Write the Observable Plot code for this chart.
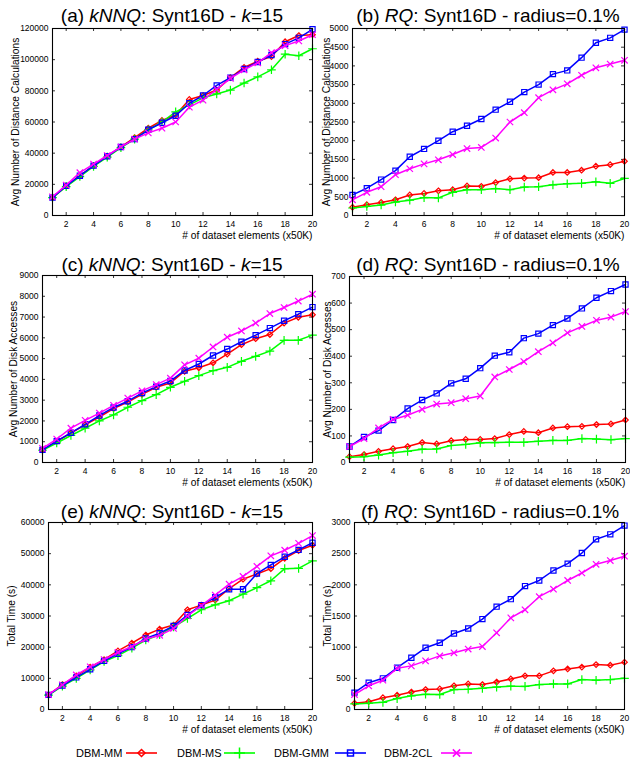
<!DOCTYPE html>
<html><head><meta charset="utf-8">
<script src="https://cdn.jsdelivr.net/npm/d3@7"></script>
<script src="https://cdn.jsdelivr.net/npm/@observablehq/plot@0.6"></script>
<style>
body{margin:0;background:#fff;}
#root{position:relative;width:630px;height:762px;font-family:"Liberation Sans",Arial,sans-serif;overflow:hidden;background:#fff;}
.panel{position:absolute;}
.panel svg{overflow:visible;}
.title{position:absolute;font-size:19px;white-space:nowrap;transform:translate(-50%,-50%);line-height:1;color:#000;}
.legtext{position:absolute;font-size:11px;white-space:nowrap;transform:translateY(-50%);line-height:1;}
.legsw{position:absolute;}
</style>
</head><body>
<div id="root"></div>
<script>
// ---------------- data ----------------
const elements = [1,2,3,4,5,6,7,8,9,10,11,12,13,14,15,16,17,18,19,20];
const xTicks = [2,4,6,8,10,12,14,16,18,20];
const methods = ["DBM-MM","DBM-MS","DBM-GMM","DBM-2CL"];
const colors = ["#ff0000","#00ff00","#0000ff","#ff00ff"];
const symbols = ["diamond2","plus","square2","times"];

const ticksA = [0,20000,40000,60000,80000,100000,120000];
const ticksB = [0,500,1000,1500,2000,2500,3000,3500,4000,4500,5000];
const ticksC = [0,1000,2000,3000,4000,5000,6000,7000,8000,9000];
const ticksD = [0,100,200,300,400,500,600,700];
const ticksE = [0,10000,20000,30000,40000,50000,60000];
const ticksF = [0,500,1000,1500,2000,2500,3000];

// (a) kNNQ distance calculations
const aMM  = [11500,19000,25500,32000,38000,44000,50000,56000,61000,64500,74500,77000,80500,88500,95000,99000,102000,111500,115500,116000];
const aMS  = [11500,18500,25000,31500,37500,43500,49000,55000,60000,66500,71000,75500,78000,80500,85000,89000,93500,103500,102500,107000];
const aGMM = [11500,19000,25500,32000,38000,44000,49000,55000,59500,64000,72000,77000,83500,88500,94000,98500,103000,110000,114000,119500];
const a2CL = [12000,19500,27500,33000,38500,44000,49000,53000,56000,60000,69500,74000,81000,88000,93500,98000,104500,109000,112000,116000];
// (b) RQ distance calculations
const bMM  = [220,290,350,420,550,590,660,690,790,780,880,980,1000,1010,1150,1150,1210,1320,1360,1450];
const bMS  = [200,240,280,360,410,480,470,620,690,690,720,690,760,770,820,850,860,900,860,990];
const bGMM = [550,730,960,1200,1570,1780,2000,2240,2400,2580,2830,3040,3300,3500,3780,3880,4220,4620,4750,4970];
const b2CL = [420,620,770,1090,1250,1380,1490,1630,1790,1820,2070,2500,2750,3150,3360,3520,3750,3950,4050,4150];
// (c) kNNQ disk accesses
const cMM  = [600,1020,1420,1810,2190,2590,2910,3280,3620,3830,4390,4560,4800,5220,5670,5960,6160,6710,6990,7110];
const cMS  = [590,940,1300,1650,2000,2290,2660,2980,3270,3620,3910,4180,4420,4580,4870,5110,5360,5880,5880,6130];
const cGMM = [610,1030,1430,1840,2260,2650,2950,3340,3650,3920,4430,4740,5150,5460,5810,6130,6470,6820,7140,7480];
const c2CL = [680,1130,1650,2030,2380,2750,3100,3450,3750,4060,4700,5020,5560,6030,6330,6710,7170,7460,7770,8100];
// (d) RQ disk accesses
const dMM  = [22,30,42,52,60,75,70,82,87,87,90,105,117,112,130,135,136,143,145,160];
const dMS  = [20,22,28,37,42,50,51,64,68,74,75,76,76,80,83,83,90,88,86,90];
const dGMM = [60,96,120,160,203,235,260,298,315,355,402,415,468,485,517,542,580,620,645,670];
const d2CL = [60,90,130,162,178,200,220,225,240,250,322,350,380,417,450,488,512,535,547,568];
// (e) kNNQ total time
const eMM  = [4700,8000,10800,13600,16000,18800,21300,23900,25800,27100,32000,33500,35100,38800,41800,43500,45200,48500,51000,52700];
const eMS  = [4600,7500,10000,12700,15400,17300,19700,22300,24000,26500,29200,32000,33600,34900,37000,39100,41300,45200,45300,47700];
const eGMM = [4700,7700,10300,12900,15600,17900,20000,22800,24500,26800,30300,33500,36000,38600,38600,43600,46400,49000,51200,53500];
const e2CL = [4800,7900,11100,13700,16000,18300,20200,22600,23800,26000,30000,33300,36700,40200,42700,45900,49300,51100,53300,55800];
// (f) RQ total time
const fMM  = [100,125,190,230,280,320,330,380,410,400,440,490,540,540,620,650,680,720,710,760];
const fMS  = [90,100,115,175,220,245,240,320,325,340,360,375,370,400,410,410,480,470,480,500];
const fGMM = [270,430,500,670,830,990,1070,1220,1300,1450,1650,1770,1980,2070,2230,2340,2510,2730,2810,2950];
const f2CL = [240,380,470,660,700,780,860,910,970,1010,1230,1470,1600,1810,1930,2070,2190,2330,2390,2460];

const xLabel = "# of dataset elements (x50K)";
const yLabelDist = "Avg Number of Distance Calculations";
const yLabelDisk = "Avg Number of Disk Accesses";
const yLabelTime = "Total Time (s)";

// ---------------- drawing ----------------
const root = document.getElementById("root");
const markR = [2.5, 2.9, 3.3, 3.0];

function panel(cfg){
  const {left, top, width, height, ml, mr, mt, mb, yDomain, yTicks, yLabel, ldx, series} = cfg;
  const W = width - ml - mr, H = height - mt - mb, t = 3;
  const marks = [
    Plot.axisX({ticks: xTicks, tickSize: 0, tickPadding: 5, label: null, fontSize: 8.5}),
    Plot.axisY({ticks: yTicks, tickSize: 0, tickPadding: 4, label: null, fontSize: 8.5, tickFormat: d3.format("d")}),
    Plot.tickX(xTicks, {x: d => d, insetTop: H - t, strokeWidth: 0.8}),
    Plot.tickX(xTicks, {x: d => d, insetBottom: H - t, strokeWidth: 0.8}),
    Plot.tickY(yTicks, {y: d => d, insetRight: W - t, strokeWidth: 0.8}),
    Plot.tickY(yTicks, {y: d => d, insetLeft: W - t, strokeWidth: 0.8}),
    Plot.text([xLabel], {text: d => d, frameAnchor: "bottom-right", textAnchor: "end", lineAnchor: "middle", dy: 20, fontSize: 10.2}),
    Plot.text([yLabel], {text: d => d, frameAnchor: "left", textAnchor: "middle", lineAnchor: "middle", rotate: -90, dx: ldx, fontSize: 10.2})
  ];
  series.forEach((vals, i) => {
    const rows = vals.map((v, j) => ({x: elements[j], y: v}));
    marks.push(Plot.line(rows, {x: "x", y: "y", stroke: colors[i], strokeWidth: 1.5}));
    marks.push(Plot.dot(rows, {x: "x", y: "y", stroke: colors[i], symbol: symbols[i], r: markR[i], strokeWidth: 1.2, fill: "none"}));
  });
  marks.push(Plot.frame({stroke: "#000", strokeWidth: 1.1}));
  const svg = Plot.plot({
    width, height, marginLeft: ml, marginRight: mr, marginTop: mt, marginBottom: mb,
    style: {fontFamily: "'Liberation Sans', Arial, sans-serif", fontSize: "8.5px", background: "transparent", color: "#000", overflow: "visible"},
    x: {domain: [1, 20], axis: null},
    y: {domain: yDomain, axis: null},
    marks
  });
  const div = document.createElement("div");
  div.className = "panel";
  div.style.left = left + "px"; div.style.top = top + "px";
  div.appendChild(svg);
  root.appendChild(div);
}

function title(html, cx, cy){
  const d = document.createElement("div");
  d.className = "title";
  d.innerHTML = html;
  d.style.left = cx + "px"; d.style.top = cy + "px";
  root.appendChild(d);
}

panel({left:0, top:20, width:316, height:227, ml:52, mr:4, mt:8, mb:32, yDomain:[0,120000], yTicks:ticksA, yLabel:yLabelDist, ldx:-37, series:[aMM,aMS,aGMM,a2CL]});
panel({left:316, top:20, width:314, height:227, ml:36, mr:6, mt:8, mb:32, yDomain:[0,5000], yTicks:ticksB, yLabel:yLabelDist, ldx:-26, series:[bMM,bMS,bGMM,b2CL]});
panel({left:0, top:267, width:316, height:227, ml:42, mr:4, mt:8, mb:32, yDomain:[0,9000], yTicks:ticksC, yLabel:yLabelDisk, ldx:-29, series:[cMM,cMS,cGMM,c2CL]});
panel({left:316, top:268, width:314, height:226, ml:33, mr:5, mt:8, mb:32, yDomain:[0,700], yTicks:ticksD, yLabel:yLabelDisk, ldx:-22, series:[dMM,dMS,dGMM,d2CL]});
panel({left:0, top:514, width:316, height:227, ml:48, mr:4, mt:8, mb:32, yDomain:[0,60000], yTicks:ticksE, yLabel:yLabelTime, ldx:-37, series:[eMM,eMS,eGMM,e2CL]});
panel({left:316, top:514, width:314, height:227, ml:38, mr:6, mt:8, mb:32, yDomain:[0,3000], yTicks:ticksF, yLabel:yLabelTime, ldx:-27, series:[fMM,fMS,fGMM,f2CL]});

title("(a) <i>kNNQ</i>: Synt16D - <i>k</i>=15", 172, 15);
title("(b) <i>RQ</i>: Synt16D - radius=0.1%", 488, 15);
title("(c) <i>kNNQ</i>: Synt16D - <i>k</i>=15", 172, 264);
title("(d) <i>RQ</i>: Synt16D - radius=0.1%", 488, 264);
title("(e) <i>kNNQ</i>: Synt16D - <i>k</i>=15", 172, 511);
title("(f) <i>RQ</i>: Synt16D - radius=0.1%", 490, 511);

// legend
const legTextX = [76, 177, 274, 384];
const legLineX = [126, 224, 335, 441];
const legY = 753;
const symTypes = [d3.symbolDiamond2, d3.symbolPlus, d3.symbolSquare2, d3.symbolTimes];
const legR = [3.2, 3.6, 3.8, 3.4];
methods.forEach((m, i) => {
  const t = document.createElement("div");
  t.className = "legtext";
  t.textContent = m;
  t.style.left = legTextX[i] + "px"; t.style.top = legY + "px";
  root.appendChild(t);
  const w = 31, h = 14;
  const svg = d3.create("svg").attr("width", w).attr("height", h)
    .style("position", "absolute").style("left", legLineX[i] + "px").style("top", (legY - h/2) + "px").style("overflow", "visible");
  svg.append("line").attr("x1", 0).attr("x2", w).attr("y1", h/2).attr("y2", h/2).attr("stroke", colors[i]).attr("stroke-width", 1.6);
  svg.append("path").attr("d", d3.symbol(symTypes[i], Math.PI * legR[i] ** 2)())
    .attr("transform", `translate(${w/2},${h/2})`).attr("fill", "none").attr("stroke", colors[i]).attr("stroke-width", 1.5);
  root.appendChild(svg.node());
});
</script>
</body></html>
